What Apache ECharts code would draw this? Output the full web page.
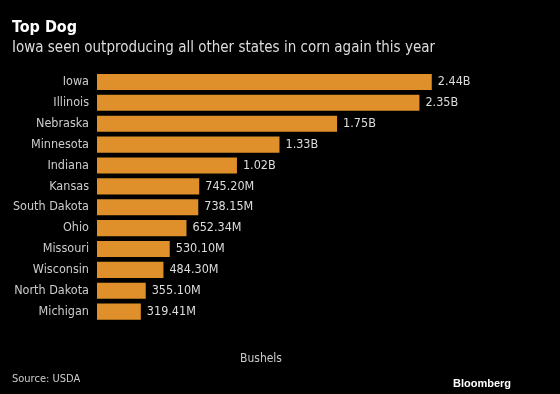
<!DOCTYPE html>
<html><head><meta charset="utf-8">
<script src="https://cdn.jsdelivr.net/npm/echarts@6/dist/echarts.min.js"></script>
<style>html,body{margin:0;padding:0;background:#000;}#c{width:560px;height:394px;}</style>
</head><body><div id="c"></div>
<script>
const states = ["Iowa","Illinois","Nebraska","Minnesota","Indiana","Kansas","South Dakota","Ohio","Missouri","Wisconsin","North Dakota","Michigan"];
const bushels = [2.44,2.35,1.75,1.33,1.02,0.7452,0.73815,0.65234,0.5301,0.4843,0.3551,0.31941];
const valueLabels = ["2.44B","2.35B","1.75B","1.33B","1.02B","745.20M","738.15M","652.34M","530.10M","484.30M","355.10M","319.41M"];

const FONT = "DejaVu Sans Condensed";
const chart = echarts.init(document.getElementById('c'));
chart.setOption({
  backgroundColor: '#000',
  animation: false,
  title: [
    {text: 'Top Dog', left: 7, top: 15, textStyle: {color: '#fff', fontSize: 16, fontWeight: 'bold', fontFamily: FONT}},
    {text: 'Iowa seen outproducing all other states in corn again this year', left: 7, top: 36, textStyle: {color: '#ddd', fontSize: 15, fontWeight: 'normal', fontFamily: FONT}},
    {text: 'Bushels', left: 256, textAlign: 'center', top: 348, textStyle: {color: '#ccc', fontSize: 12, fontWeight: 'normal', fontFamily: FONT}},
    {text: 'Source: USDA', left: 7, top: 369, textStyle: {color: '#ccc', fontSize: 11, fontWeight: 'normal', fontFamily: FONT}},
    {text: 'Bloomberg', right: 44, top: 373, textStyle: {color: '#fff', fontSize: 11, fontWeight: 'bold', fontFamily: 'Liberation Sans'}}
  ],
  grid: {left: 97, top: 71.5, width: 411.6, height: 250.6, containLabel: false},
  xAxis: {type: 'value', min: 0, max: 3, show: false},
  yAxis: {type: 'category', data: states, inverse: true,
    axisLine: {show: false}, axisTick: {show: false},
    axisLabel: {color: '#ccc', fontSize: 12.5, fontFamily: FONT, margin: 8}},
  series: [{
    type: 'bar', data: bushels, barCategoryGap: '23%',
    itemStyle: {color: '#E0902A'},
    label: {show: true, position: 'right', distance: 6, color: '#ddd', fontSize: 12.5, fontFamily: FONT,
      formatter: p => valueLabels[p.dataIndex]}
  }]
});
</script></body></html>
